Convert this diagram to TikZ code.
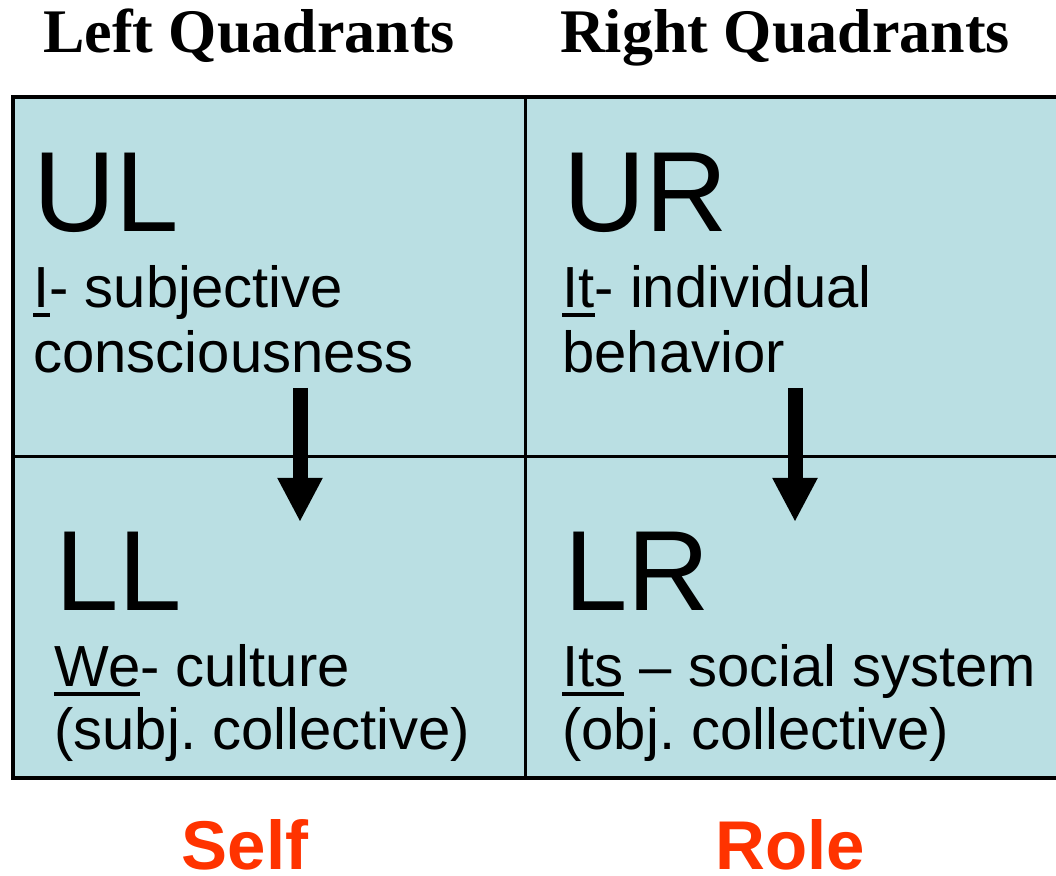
\documentclass[tikz,border=0pt]{standalone}
\usepackage{fontspec}
\setmainfont{Liberation Serif}
\newfontfamily\arialfont{Liberation Sans}
\usetikzlibrary{arrows.meta}
\definecolor{quadfill}{RGB}{186,223,227}
\definecolor{lensred}{RGB}{255,51,0}
\newcommand{\ulword}[1]{\leavevmode\setbox0\hbox{#1}\rlap{\rule[-4.5pt]{\wd0}{2pt}}\box0\relax}
\frenchspacing

\begin{document}
\begin{tikzpicture}[x=0.5pt,y=-0.5pt]
\tikzstyle{heading} = [font=\fontsize{31}{36}\selectfont\bfseries, inner sep=0, anchor=base]
\tikzstyle{bigtag} = [font=\arialfont\fontsize{57}{66}\selectfont, inner sep=0, anchor=base west]
\tikzstyle{descr} = [font=\arialfont\fontsize{29}{33}\selectfont, inner sep=0, anchor=base west]
\tikzstyle{lens} = [font=\arialfont\bfseries\fontsize{34.5}{40}\selectfont, text=lensred, inner sep=0, anchor=base]
\tikzstyle{edge} = [-{Triangle[width=21pt,length=22pt]}, line width=7.5pt]
\useasboundingbox (0,0) rectangle (1056,876);
\fill[quadfill] (13,97) rectangle (1080,778);
\draw[line width=1.5pt] (13,457) -- (1080,457);
\draw[line width=1.5pt] (525,97) -- (525,778);
\draw[line width=2pt] (13,97) rectangle (1080,778);
\node[heading] (lefthead) at (249,53) {Left Quadrants};
\node[heading] (righthead) at (785,53) {Right Quadrants};
\node[bigtag] (ul) at (33,232) {UL};
\node[descr] (ul1) at (33,308) {\ulword{I}- subjective};
\node[descr] (ul2) at (33,373) {consciousness};
\node[bigtag] (ur) at (563,232) {UR};
\node[descr] (ur1) at (562,308) {\ulword{It}- individual};
\node[descr] (ur2) at (562,373) {behavior};
\node[bigtag] (ll) at (55,611) {LL};
\node[descr] (ll1) at (54,687) {\ulword{We}- culture};
\node[descr] (ll2) at (54,750) {(subj. collective)};
\node[bigtag] (lr) at (564,611) {LR};
\node[descr] (lr1) at (562,687) {\ulword{Its} – social system};
\node[descr] (lr2) at (562,750) {(obj. collective)};
\coordinate (ulfrom) at (300,388);
\coordinate (llto) at (300,522);
\coordinate (urfrom) at (795,388);
\coordinate (lrto) at (795,522);
\draw[edge] (ulfrom) -- (llto);
\draw[edge] (urfrom) -- (lrto);
\node[lens] (self) at (245,870) {Self};
\node[lens] (role) at (790,870) {Role};
\end{tikzpicture}
\end{document}
